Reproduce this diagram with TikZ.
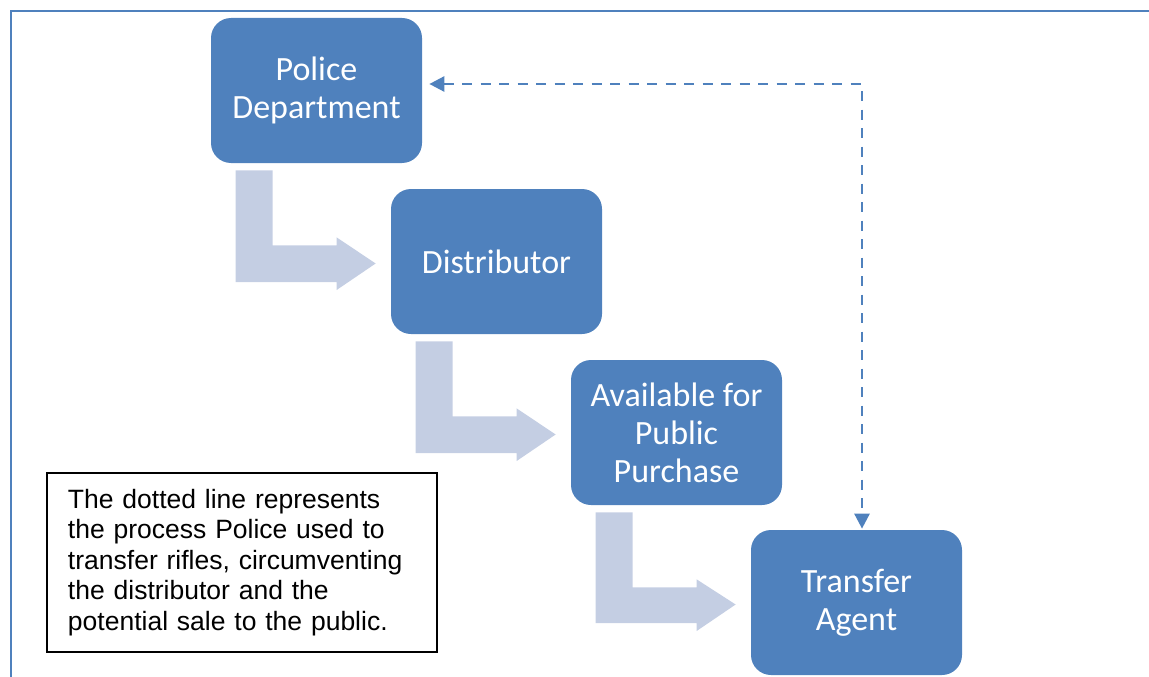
\documentclass[tikz,border=0pt]{standalone}
\usepackage{fontspec}
\setmainfont{Carlito}
\newfontfamily\notefont{Liberation Sans}
\usetikzlibrary{arrows.meta}
\definecolor{bleu}{RGB}{79,129,189}
\definecolor{bleuclair}{RGB}{196,206,227}

\begin{document}
\begin{tikzpicture}[
        etape/.style={fill=bleu, text=white, rounded corners=0.4cm, minimum width=4.22cm, minimum height=2.9cm,
            inner sep=0pt, align=center, font=\fontsize{19.35}{21.6}\selectfont},%boites bleues
        fleche/.style={fill=bleuclair},%fleches coudees
        lien/.style={draw=bleu, line width=1.5pt, dash pattern=on 0.2cm off 0.17cm,
            {Triangle[length=0.3cm,width=0.3cm]}-{Triangle[length=0.3cm,width=0.3cm]}},%ligne pointillee
        note/.style={draw=black, line width=0.6pt, text width=6.96cm, inner xsep=0.42cm, inner ysep=0.2cm,
            minimum height=3.58cm, align=left, font=\notefont\fontsize{15.08}{17.36}\selectfont}]%Permet de fixer la taille du cadre
    \useasboundingbox (0,0) rectangle (22.98,-13.54);
    \draw[bleu, line width=1.2pt] (22.98,-0.22) -- (0.22,-0.22) -- (0.22,-13.54);

    \node[etape] (police) at (6.33,-1.81) {Police\\Department};
    \node[etape] (distrib) at (9.93,-5.23) {Distributor};
    \node[etape] (public) at (13.53,-8.65) {Available for\\Public\\Purchase};
    \node[etape] (agent) at (17.13,-12.05) {Transfer\\Agent};

    \foreach \a/\b in {police/distrib, distrib/public, public/agent}{
        \fill[fleche] ([shift={(0.5,-0.14)}]\a.south west) -- ++(0.74,0) -- ++(0,-1.5) -- ++(1.28,0) -- ++(0,0.16)
            -- ([xshift=-0.3cm,yshift=-0.04cm]\b.west) -- ++(-0.78,-0.53) -- ++(0,0.16) -- ++(-2.02,0) -- cycle;
    }

    \draw[lien] ([xshift=0.14cm,yshift=0.13cm]police.east) -| ([xshift=0.11cm,yshift=0.02cm]agent.north);

    \node[note] (texte) at (4.84,-11.25) {The dotted line represents\\the process Police used to\\transfer rifles, circumventing\\the distributor and the\\potential sale to the public.};
\end{tikzpicture}
\end{document}
